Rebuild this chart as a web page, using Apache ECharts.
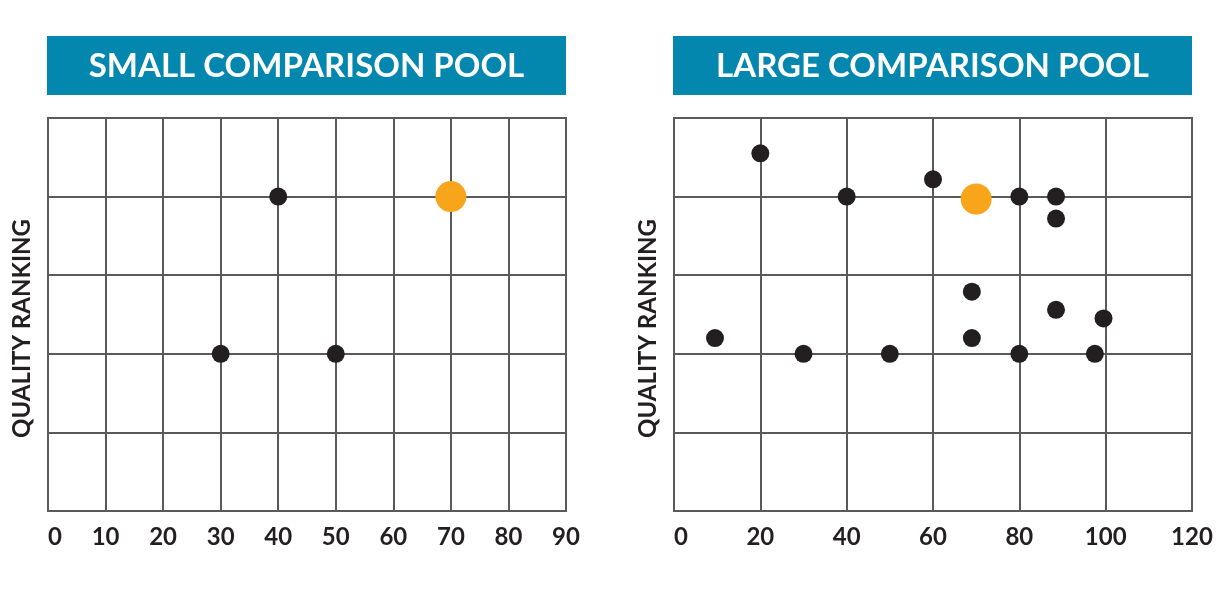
<!DOCTYPE html>
<html>
<head>
<meta charset="utf-8">
<script src="https://cdn.jsdelivr.net/npm/echarts@6/dist/echarts.min.js"></script>
<style>
html,body{margin:0;padding:0;background:#fff;}
#c{width:1232px;height:590px;}
</style>
</head>
<body>
<div id="c"></div>
<script>
var panelTitles = ['SMALL COMPARISON POOL', 'LARGE COMPARISON POOL'];
var yAxisName = 'QUALITY RANKING';

var smallX = [30, 40, 50];
var smallY = [2, 4, 2];
var smallHighlightX = [70];
var smallHighlightY = [4];

var largeX = [9.5, 20, 30, 40, 50, 60, 69, 69, 80, 80, 88.5, 88.5, 88.5, 97.5, 99.5];
var largeY = [2.2, 4.55, 2, 4, 2, 4.22, 2.79, 2.2, 4, 2, 4, 3.72, 2.56, 2, 2.45];
var largeHighlightX = [70];
var largeHighlightY = [3.97];

var xMax = [90, 120];
var xInterval = [10, 20];

function pairs(xs, ys) { return xs.map(function (x, i) { return [x, ys[i]]; }); }

var FONT = 'Lato';
var TEAL = '#0387ae';
var GRID = '#5a5a5a';
var DARK = '#231f20';
var ORANGE = '#f9a51b';

var grids = [
  { left: 48, top: 118, width: 518, height: 393 },
  { left: 674, top: 118, width: 518, height: 393 }
];

var chart = echarts.init(document.getElementById('c'));
chart.setOption({
  backgroundColor: '#fff',
  animation: false,
  grid: grids.map(function (g) {
    return Object.assign({ show: true, borderColor: GRID, borderWidth: 2, containLabel: false }, g);
  }),
  graphic: grids.map(function (g, i) {
    return {
      type: 'group',
      left: g.left - 1,
      top: 36,
      children: [
        { type: 'rect', shape: { x: 0, y: 0, width: 519, height: 59 }, style: { fill: TEAL } },
        { type: 'text', x: 259.5, y: 30, style: { text: panelTitles[i], fill: '#fff', font: 'bold 33px ' + FONT, align: 'center', verticalAlign: 'middle' } }
      ]
    };
  }),
  xAxis: [0, 1].map(function (i) {
    return {
      type: 'value', gridIndex: i, min: 0, max: xMax[i], interval: xInterval[i],
      axisLine: { show: true, lineStyle: { color: GRID, width: 2 } },
      axisTick: { show: false },
      splitLine: { show: true, lineStyle: { color: GRID, width: 2 } },
      axisLabel: { color: DARK, fontSize: 24, fontWeight: 'bold', fontFamily: FONT, margin: 14, alignMinLabel: 'left' }
    };
  }),
  yAxis: [0, 1].map(function (i) {
    return {
      type: 'value', gridIndex: i, min: 0, max: 5, interval: 1,
      name: yAxisName, nameLocation: 'middle', nameGap: 14,
      nameTextStyle: { color: DARK, fontSize: 24, fontWeight: 'bold', fontFamily: FONT, padding: [0, 28, 0, 0] },
      axisLine: { show: true, lineStyle: { color: GRID, width: 2 } },
      axisTick: { show: false },
      axisLabel: { show: false },
      splitLine: { show: true, lineStyle: { color: GRID, width: 2 } }
    };
  }),
  series: [
    { type: 'scatter', xAxisIndex: 0, yAxisIndex: 0, symbolSize: 18, itemStyle: { color: DARK, opacity: 1 }, data: pairs(smallX, smallY) },
    { type: 'scatter', xAxisIndex: 0, yAxisIndex: 0, symbolSize: 31, itemStyle: { color: ORANGE, opacity: 1 }, data: pairs(smallHighlightX, smallHighlightY) },
    { type: 'scatter', xAxisIndex: 1, yAxisIndex: 1, symbolSize: 18, itemStyle: { color: DARK, opacity: 1 }, data: pairs(largeX, largeY) },
    { type: 'scatter', xAxisIndex: 1, yAxisIndex: 1, symbolSize: 31, itemStyle: { color: ORANGE, opacity: 1 }, data: pairs(largeHighlightX, largeHighlightY) }
  ]
});
</script>
</body>
</html>
